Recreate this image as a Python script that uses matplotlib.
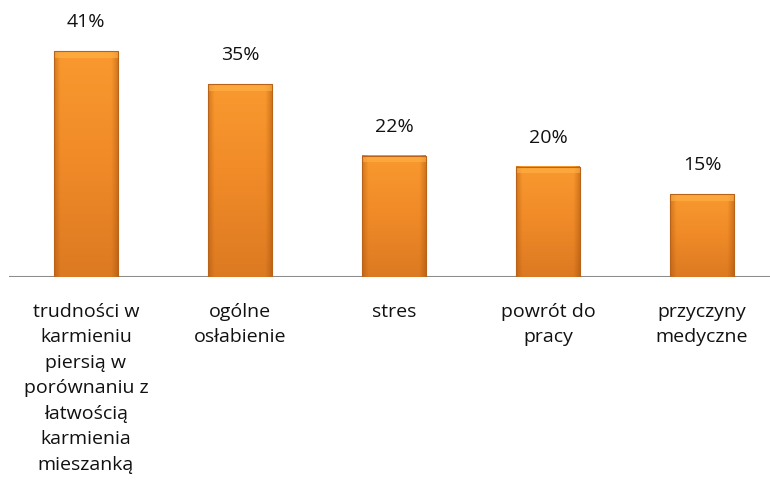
import numpy as np
import matplotlib.pyplot as plt
from matplotlib.colors import LinearSegmentedColormap

categories = ["trudności w\nkarmieniu\npiersią w\nporównaniu z\nłatwością\nkarmienia\nmieszanką",
              "ogólne\nosłabienie", "stres", "powrót do\npracy", "przyczyny\nmedyczne"]
values = [41, 35, 22, 20, 15]
value_labels = ["41%", "35%", "22%", "20%", "15%"]

plt.rcParams['font.family'] = ['Open Sans', 'DejaVu Sans']

fig = plt.figure(figsize=(7.7, 4.93), dpi=100)
ax = fig.add_axes([9 / 770, (493 - 277) / 493, 761 / 770, 277 / 493])
ax.set_xlim(-0.5, -0.5 + 761 / 154)
ax.set_ylim(0, 277 / 5.51)
ax.axis('off')
ax.axhline(0, color='#8c8c8c', lw=1.5, zorder=1)

w = 0.41
# vertical gradient: lighter top, darker bottom
vcmap = LinearSegmentedColormap.from_list('v', ['#dc7a22', '#f08a28', '#f9992f'])
for i, v in enumerate(values):
    x0 = i - w / 2
    grad = np.linspace(0, 1, 200).reshape(-1, 1)
    ax.imshow(grad, cmap=vcmap, origin='lower', aspect='auto',
              extent=(x0, x0 + w, 0, v), zorder=2)
    # side shading (bevel)
    side = np.linspace(-1, 1, 200)
    shade = np.clip(np.abs(side) - 0.8, 0, None) / 0.2
    rgba = np.zeros((2, 200, 4))
    rgba[..., 0] = 0.55
    rgba[..., 1] = 0.25
    rgba[..., 3] = np.tile(shade * 0.35, (2, 1))
    ax.imshow(rgba, origin='lower', aspect='auto', extent=(x0, x0 + w, 0, v), zorder=3)
    # top bevel highlight
    ax.fill_between([x0, x0 + w], v - 1.2, v, color='#ffb347', alpha=0.6, zorder=4, lw=0)
    ax.plot([x0, x0 + w, x0 + w, x0, x0], [0, 0, v, v, 0], color='#b8621a', lw=0.8, zorder=5)
    ax.annotate(value_labels[i], (i, v), xytext=(0, 21), textcoords='offset points',
                ha='center', va='center', fontsize=14, color='#111111')
    ax.annotate(categories[i], (i, 0), xytext=(0, -18.5), textcoords='offset points',
                ha='center', va='top', fontsize=14, color='#111111', linespacing=1.54,
                annotation_clip=False)

fig.savefig('out.png', dpi=100)
